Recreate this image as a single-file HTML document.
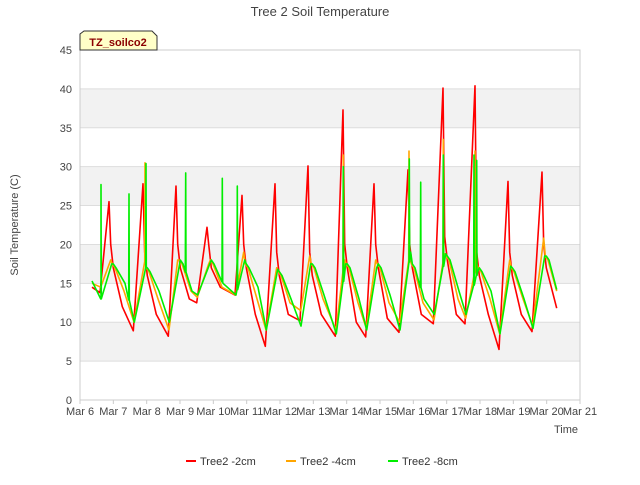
<!DOCTYPE html>
<html><head><meta charset="utf-8"><style>
body{margin:0;background:#fff;font-family:"Liberation Sans",sans-serif}
svg text{font-family:"Liberation Sans",sans-serif}
</style></head><body>
<svg id="c" width="640" height="480" viewBox="0 0 640 480">
<text x="320" y="16" text-anchor="middle" font-size="13" fill="#444">Tree 2 Soil Temperature</text>
<text transform="translate(18,225) rotate(-90)" text-anchor="middle" font-size="11" fill="#444">Soil Temperature (C)</text>
<text x="566" y="433" text-anchor="middle" font-size="11" fill="#444">Time</text>
<g id="grid"></g>
<g id="axes"></g>
<g id="series"></g>
<g>
<path d="M80,50 L80,34 L84,31 L152,31 L157,36 L157,50 Z" fill="#ffffc8" stroke="#333" stroke-width="1"/>
<text x="118" y="46" text-anchor="middle" font-size="11" font-weight="bold" fill="#8b0000">TZ_soilco2</text>
</g>
<g>
<g><line x1="186" y1="461" x2="196" y2="461" stroke="#ff0000" stroke-width="2"/><text x="200" y="465" font-size="11" fill="#333">Tree2 -2cm</text></g>
<g><line x1="286" y1="461" x2="296" y2="461" stroke="#ffa500" stroke-width="2"/><text x="300" y="465" font-size="11" fill="#333">Tree2 -4cm</text></g>
<g><line x1="388" y1="461" x2="398" y2="461" stroke="#00ee00" stroke-width="2"/><text x="402" y="465" font-size="11" fill="#333">Tree2 -8cm</text></g>
</g>
</svg>
<script>
const xTicks=["Mar 6","Mar 7","Mar 8","Mar 9","Mar 10","Mar 11","Mar 12","Mar 13","Mar 14","Mar 15","Mar 16","Mar 17","Mar 18","Mar 19","Mar 20","Mar 21"];
const yTicks=[0,5,10,15,20,25,30,35,40,45];
const redPeakT=[6.87,7.89,8.88,9.81,10.86,11.85,12.84,13.89,14.82,15.84,16.89,17.85,18.84,19.86];
const redPeakV=[25.5,27.8,27.5,22.2,26.3,27.8,30.1,37.3,27.8,29.6,40.1,40.4,28.1,29.3];
const redMinT=[6.6,7.6,8.65,9.5,10.65,11.56,12.6,13.66,14.57,15.57,16.6,17.55,18.57,19.56];
const redMinV=[13.8,8.9,8.2,12.5,13.5,6.9,10.2,8.2,8.1,8.7,9.8,9.8,6.5,8.8];
const redPlat=[17,16,17,17,17,16,16,17,17,17,18,16,16,17];
const redMid=[12,11,13,14.5,11,11,11,10,10.5,11,11,11,11,11];
const orgPeakV=[18,17.8,18,17.5,19,17,18.5,18,18,18.5,18.8,17.5,18,20.8];
const orgMinV=[14.5,10,9,13.2,13.5,9,11.5,9,9.2,10,10.3,10.5,8.5,9.5];
const orgPlat=[17,16.5,17.5,17.5,17,16,17,17,17,17,18,16.5,16.5,18];
const orgMid=[14,13,14,14.5,13,12.5,13,12.5,12.5,12.5,13,13,13,13];
const grnPeakV=[17.5,17,16.8,17.5,18,16.8,17.5,17.5,17,19,18.8,16.5,17.2,18.5];
const grnMinV=[13,10,10,13.5,13.5,9,9.5,8.5,9,9,11,11,8.5,9.2];
const grnMid=[15,14,14,15,14.5,13,13.5,13,13.5,13,14,14,13,13.5];
const orgSpikeT=[7.95,13.9,15.87,16.9,17.85];
const orgSpikeV=[30.5,31.5,32,33.5,32];
const grnSpikeT=[6.63,7.47,7.98,9.17,10.27,10.72,13.9,15.88,16.22,16.9,17.82,17.9];
const grnSpikeV=[27.7,26.5,30.4,29.2,28.5,27.5,30,31,28,31.5,31.5,30.8];
const startV=[14.5,15,15.3];
const endV=[11.8,14,14.2];

const X=d=>80+(d-6)*500/15, Y=v=>400-v*350/45;
const NS="http://www.w3.org/2000/svg";
function mk(t,a,p){const e=document.createElementNS(NS,t);for(const k in a)e.setAttribute(k,a[k]);p.appendChild(e);return e;}
const grid=document.getElementById('grid'),axes=document.getElementById('axes'),ser=document.getElementById('series');
for(let i=0;i<yTicks.length-1;i++){ if(i%2===1){const b=mk('rect',{x:80,y:Y(yTicks[i+1]),width:500,height:Y(yTicks[i])-Y(yTicks[i+1]),fill:'#f2f2f2'},grid);}}
yTicks.forEach(v=>{const l=mk('line',{x1:80,x2:580,y1:Y(v),y2:Y(v),stroke:'#ddd'},grid);
 const t=mk('text',{x:72,y:Y(v)+4,'text-anchor':'end','font-size':11,fill:'#444'},axes);t.textContent=v;});
mk('rect',{x:80,y:50,width:500,height:350,fill:'none',stroke:'#ccc'},axes);
xTicks.forEach((s,i)=>{mk('line',{x1:X(6+i),x2:X(6+i),y1:400,y2:404,stroke:'#ccc'},axes);
 const t=mk('text',{x:X(6+i),y:415,'text-anchor':'middle','font-size':11,fill:'#444'},axes);t.textContent=s;});
function build(k,peakV,minV,plat,mid,dT,dM){
 const p=[[6.36,startV[k]]];
 for(let i=0;i<redPeakT.length;i++){
  const tp=redPeakT[i]+dT;
  p.push([redMinT[i]+dM,minV[i]]);
  p.push([tp,peakV[i]]);
  p.push([tp+0.05,plat[i]+(k===0?3:0.5)]);
  p.push([tp+0.13,plat[i]]);
  const nt=i+1<redMinT.length?redMinT[i+1]+dM:null;
  if(nt&&nt-tp>0.5)p.push([tp+0.4,mid[i]]);
 }
 p.push([20.3,endV[k]]);
 return p.filter(q=>q[0]<=20.3);
}
function interp(p,t){for(let i=1;i<p.length;i++)if(p[i][0]>=t){const a=p[i-1],b=p[i];return a[1]+(b[1]-a[1])*(t-a[0])/(b[0]-a[0]);}return p[p.length-1][1];}
function spikes(p,T,V){let q=p.slice();T.forEach((t,i)=>{const b=interp(p,t);q.push([t-0.01,b],[t,V[i]],[t+0.01,b]);});return q.sort((a,b)=>a[0]-b[0]);}
const red=build(0,redPeakV,redMinV,redPlat,redMid,0,0);
const org=spikes(build(1,orgPeakV,orgMinV,orgPlat,orgMid,0.05,0.02),orgSpikeT,orgSpikeV);
const grn=spikes(build(2,grnPeakV,grnMinV,orgPlat,grnMid,0.08,0.03),grnSpikeT,grnSpikeV);
[[red,'#ff0000','series-2cm'],[org,'#ffa500','series-4cm'],[grn,'#00ee00','series-8cm']].forEach(([p,c,n])=>{
 const e=mk('polyline',{points:p.map(q=>X(q[0]).toFixed(1)+','+Y(q[1]).toFixed(1)).join(' '),fill:'none',stroke:c,'stroke-width':1.6,'stroke-linejoin':'round'},ser);
 
 
});
</script>
</body></html>
